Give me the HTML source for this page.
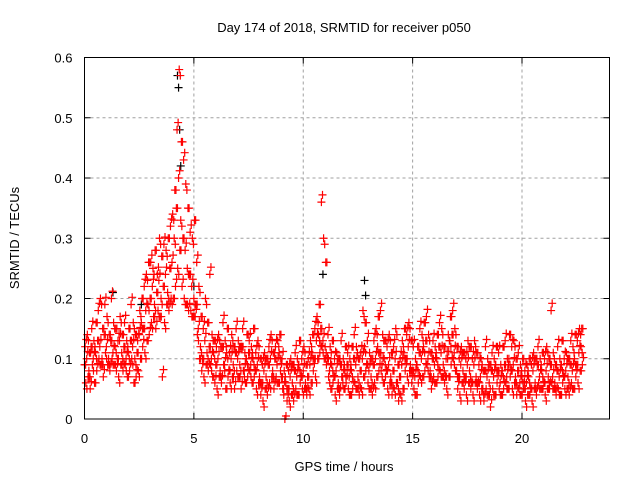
<!DOCTYPE html>
<html><head><meta charset="utf-8"><style>
body{margin:0;background:#fff}
svg{display:block;font-family:"Liberation Sans",sans-serif}
</style></head><body>
<svg id="chart" width="640" height="480" viewBox="0 0 640 480">
<rect width="640" height="480" fill="#fff"/>
<text x="344" y="32" font-size="13" text-anchor="middle" fill="#000">Day 174 of 2018, SRMTID for receiver p050</text>
<text transform="translate(19,238) rotate(-90)" font-size="13" text-anchor="middle">SRMTID / TECUs</text>
<text x="344" y="471" font-size="13" text-anchor="middle">GPS time / hours</text>
<g id="grid"></g><g id="ticks"></g><g id="black"></g><g id="red"></g>
<rect x="84.5" y="57.5" width="525" height="361.5" fill="none" stroke="#000" stroke-width="1"/>
</svg>
<script>
const xTicks=[0,5,10,15,20];
const yTicks=[0,0.1,0.2,0.3,0.4,0.5,0.6];
const yTickLabels=["0","0.1","0.2","0.3","0.4","0.5","0.6"];
const redValues=[
[.09,.12,.06],[.1,.14,.07],[.08,.11,.05],[.12,.15,.09],[.1,.13,.06],[.11,.16,.08],[.13,.18,.1],[.12,.2,.09],[.1,.15,.07],[.14,.19,.11],
[.12,.17,.09],[.1,.14,.08],[.13,.2,.1],[.11,.16,.09],[.12,.15,.08],[.1,.13,.07],[.13,.17,.09],[.11,.14,.08],[.12,.16,.09],[.1,.13,.07],
[.11,.15,.08],[.13,.19,.1],[.12,.16,.06],[.1,.14,.07],[.11,.13,.08],[.14,.18,.1],[.16,.2,.12],[.15,.22,.11],[.18,.24,.13],[.19,.26,.14],
[.2,.26,.16],[.22,.25,.17],[.19,.28,.15],[.21,.24,.18],[.23,.3,.17],[.2,.27,.07],[.22,.29,.16],[.24,.28,.19],[.21,.3,.18],[.25,.32,.2],
[.26,.34,.2],[.3,.38,.22],[.35,.48,.25],[.4,.58,.28],[.33,.46,.22],[.3,.43,.2],[.28,.39,.19],[.25,.35,.18],[.24,.31,.18],[.22,.3,.17],
[.2,.33,.17],[.19,.26,.14],[.15,.22,.1],[.12,.17,.08],[.1,.15,.07],[.13,.2,.09],[.11,.16,.08],[.12,.24,.09],[.1,.14,.07],[.11,.13,.06],
[.09,.12,.05],[.1,.14,.07],[.08,.12,.06],[.12,.16,.09],[.09,.13,.05],[.11,.15,.07],[.08,.11,.06],[.1,.14,.07],[.09,.12,.05],[.11,.15,.08],
[.1,.13,.07],[.09,.12,.05],[.12,.15,.08],[.08,.11,.06],[.1,.14,.07],[.11,.13,.08],[.09,.12,.06],[.1,.15,.07],[.08,.11,.05],[.09,.13,.06],
[.07,.1,.04],[.06,.09,.03],[.08,.11,.05],[.07,.1,.04],[.09,.12,.06],[.1,.14,.07],[.08,.11,.05],[.1,.12,.07],[.09,.13,.06],[.11,.14,.08],
[.07,.1,.05],[.05,.08,0],[.06,.09,.03],[.05,.08,.03],[.07,.1,.04],[.06,.09,.03],[.08,.11,.05],[.07,.1,.04],[.09,.13,.06],[.07,.1,.05],
[.08,.12,.05],[.06,.09,.04],[.07,.1,.05],[.09,.13,.06],[.11,.14,.08],[.1,.15,.07],[.13,.17,.1],[.14,.19,.11],[.15,.36,.12],[.13,.3,.1],
[.12,.26,.09],[.1,.14,.07],[.08,.12,.05],[.09,.13,.06],[.07,.1,.04],[.08,.11,.05],[.06,.1,.04],[.09,.13,.07],[.07,.1,.05],[.08,.12,.06],
[.09,.11,.05],[.07,.1,.04],[.08,.12,.05],[.1,.14,.06],[.09,.12,.05],[.07,.1,.04],[.08,.11,.05],[.1,.18,.07],[.12,.16,.08],[.09,.13,.06],
[.08,.11,.05],[.07,.1,.04],[.09,.13,.06],[.1,.15,.07],[.12,.17,.08],[.11,.18,.08],[.09,.14,.06],[.1,.13,.07],[.08,.12,.05],[.09,.14,.06],
[.07,.11,.04],[.08,.12,.05],[.1,.15,.06],[.06,.09,.03],[.07,.1,.04],[.09,.13,.05],[.11,.15,.08],[.1,.14,.07],[.12,.16,.08],[.09,.13,.06],
[.08,.12,.05],[.07,.1,.04],[.09,.12,.06],[.11,.15,.07],[.1,.14,.07],[.12,.16,.08],[.13,.17,.09],[.1,.14,.07],[.08,.11,.05],[.1,.13,.07],
[.09,.12,.06],[.1,.14,.07],[.12,.16,.08],[.11,.15,.07],[.09,.12,.06],[.07,.1,.05],[.1,.14,.07],[.13,.17,.09],[.14,.18,.1],[.11,.15,.08],
[.08,.12,.05],[.07,.1,.04],[.09,.12,.06],[.08,.11,.05],[.07,.1,.04],[.09,.13,.06],[.08,.12,.05],[.06,.1,.04],[.09,.13,.06],[.07,.11,.05],
[.06,.09,.04],[.07,.1,.05],[.05,.08,.03],[.08,.12,.05],[.07,.1,.04],[.06,.09,.02],[.08,.11,.05],[.07,.1,.04],[.09,.12,.06],[.08,.11,.05],
[.06,.09,.04],[.08,.12,.05],[.09,.13,.06],[.07,.1,.05],[.1,.14,.07],[.08,.12,.05],[.09,.13,.06],[.07,.1,.04],[.08,.11,.05],[.06,.09,.04],
[.07,.1,.05],[.05,.08,.03],[.06,.09,.04],[.07,.1,.04],[.05,.09,.03],[.08,.11,.05],[.06,.1,.04],[.09,.12,.06],[.07,.1,.05],[.08,.11,.05],
[.06,.1,.04],[.08,.12,.05],[.07,.1,.05],[.09,.18,.06],[.07,.11,.05],[.06,.09,.04],[.08,.12,.05],[.07,.1,.04],[.09,.13,.06],[.07,.1,.05],
[.08,.11,.05],[.07,.1,.04],[.09,.13,.06],[.08,.12,.05],[.1,.14,.07],[.09,.13,.06],[.11,.15,.08],[.12,.15,.09]];
const sampleStepHours=0.1;
const blackHours=[4.25,4.3,4.35,4.4,10.9,12.8,12.85,1.3,2.6,5.0];
const blackValues=[0.57,0.55,0.48,0.42,0.24,0.23,0.205,0.21,0.19,0.22];
const NS="http://www.w3.org/2000/svg";
const X0=84.5,X1=609.5,Y0=419,Y1=57.5,XMAX=24,YMAX=0.6;
const xs=v=>X0+(X1-X0)*v/XMAX, ys=v=>Y0-(Y0-Y1)*v/YMAX;
function mk(tag,attrs,parent){const e=document.createElementNS(NS,tag);for(const k in attrs)e.setAttribute(k,attrs[k]);parent.appendChild(e);return e;}
const grid=document.getElementById('grid'),ticks=document.getElementById('ticks');
xTicks.forEach(t=>{const x=xs(t);
 if(t>0){const g=mk('line',{x1:x,x2:x,y1:Y1,y2:Y0,stroke:'#a0a0a0','stroke-dasharray':'3,3'},grid);
 
 }
 mk('line',{x1:x,x2:x,y1:Y0,y2:Y0-6,stroke:'#000'},ticks);mk('line',{x1:x,x2:x,y1:Y1,y2:Y1+6,stroke:'#000'},ticks);
 const l=mk('text',{x:x,y:Y0+24,'font-size':13,'text-anchor':'middle'},ticks);l.textContent=t;
 
 });
yTicks.forEach((t,i)=>{const y=ys(t);
 if(t>0&&t<0.6){const g=mk('line',{x1:X0,x2:X1,y1:y,y2:y,stroke:'#a0a0a0','stroke-dasharray':'3,3'},grid);
 
 }
 mk('line',{x1:X0,x2:X0+6,y1:y,y2:y,stroke:'#000'},ticks);mk('line',{x1:X1,x2:X1-6,y1:y,y2:y,stroke:'#000'},ticks);
 const l=mk('text',{x:X0-12,y:y+5,'font-size':13,'text-anchor':'end'},ticks);l.textContent=yTickLabels[i];
 
 });
function plus(g,h,v,color){const x=xs(h),y=ys(v);
 const p=mk('path',{d:`M${x-4},${y}H${x+4}M${x},${y-4}V${y+4}`,stroke:color,'stroke-width':1.2,fill:'none'},g);return p;}
const bg=document.getElementById('black');
blackHours.forEach((h,i)=>{const p=plus(bg,h,blackValues[i],'#000');
 
 });
const rg=document.getElementById('red');
const dv=[0,0.012,-0.01];
redValues.forEach((trip,i)=>{trip.forEach((v,k)=>{[0,0.05].forEach((dx,j)=>{
 const vv=j===0?v:Math.max(0.005,v+dv[(i+k)%3]);
 const p=plus(rg,i*sampleStepHours+k*0.03+dx,vv,'#f00');
 
 });});});
</script>
</body></html>
